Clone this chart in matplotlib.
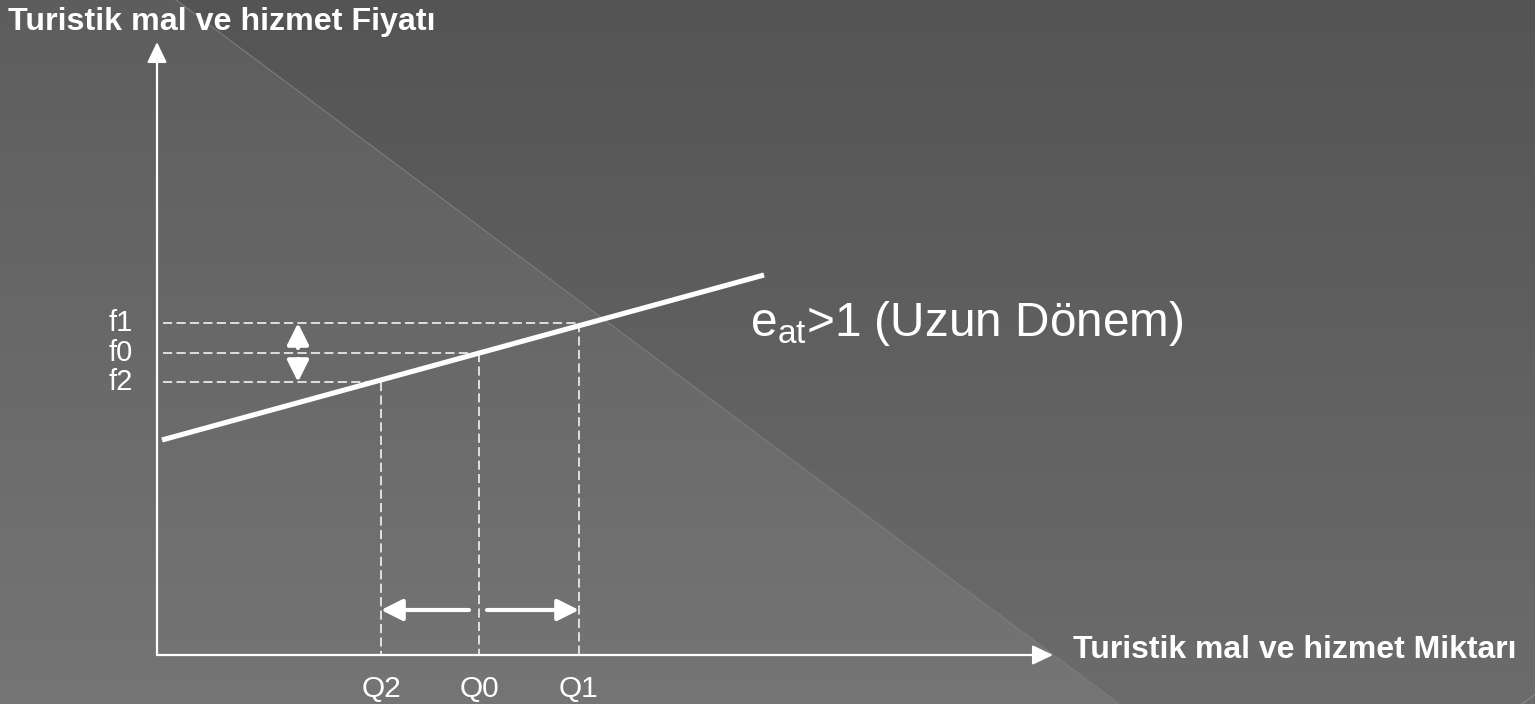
import numpy as np
import matplotlib
matplotlib.use("Agg")
import matplotlib.pyplot as plt

plt.rcParams["font.family"] = ["Liberation Sans", "DejaVu Sans"]
plt.rcParams["mathtext.fontset"] = "custom"
plt.rcParams["mathtext.rm"] = "Liberation Sans"
plt.rcParams["mathtext.it"] = "Liberation Sans"

# ---- data -------------------------------------------------------------
price_labels = ["f1", "f0", "f2"]
price_values = [3.32, 3.02, 2.73]

qty_labels = ["Q2", "Q0", "Q1"]
qty_values = [2.24, 3.22, 4.22]

# long-run supply curve (two end points of the straight line)
supply_q = [0.05, 6.07]
supply_p = [2.15, 3.80]

y_axis_top = 6.13
x_axis_end = 8.96
shift_arrow_level = 0.45

y_title = "Turistik mal ve hizmet Fiyatı"
x_title = "Turistik mal ve hizmet Miktarı"
curve_label = r"$\mathrm{e}_{\mathrm{at}}$>1 (Uzun Dönem)"

# ---- figure -----------------------------------------------------------
W, H = 1535, 704
fig = plt.figure(figsize=(W / 100, H / 100), dpi=100)
ax = fig.add_axes([0, 0, 1, 1])
ax.axis("off")

# background: vertical grey gradient with a lighter diagonal band
rows = np.arange(H)[:, None] / (H - 1)
cols = np.arange(W)[None, :] / (W - 1)
base = 84 + 24 * rows
edge = 0.1147 + (0.729 - 0.1147) * rows
lighter = np.clip((edge - cols) * W + 0.5, 0, 1) * 9
grey = (base + lighter) / 255.0
bg = np.dstack([grey, grey, grey])
ax.imshow(bg, extent=[0, 1, 0, 1], transform=ax.transAxes,
          aspect="auto", zorder=0, interpolation="bilinear")
ax.plot([0.1147, 0.729], [1, 0], transform=ax.transAxes,
        color="#7c7c7c", lw=0.8, zorder=1)
ax.plot([0.9915, 1.0], [0, 0.0135], transform=ax.transAxes,
        color="#8a8a8a", lw=0.8, zorder=1)

ax.set_xlim(-1.57, 13.78)
ax.set_ylim(-0.49, 6.55)

white = "white"

# axes with arrow heads
axis_arrow = dict(arrowstyle="-|>,head_length=1.0,head_width=0.48",
                  mutation_scale=12.5, color=white, lw=1.6,
                  shrinkA=0, shrinkB=0)
ax.annotate("", xy=(0, y_axis_top), xytext=(0, 0), arrowprops=axis_arrow, zorder=4)
ax.annotate("", xy=(x_axis_end, 0), xytext=(0, 0), arrowprops=axis_arrow, zorder=4)

# supply curve
ax.plot(supply_q, supply_p, color=white, lw=3.7, solid_capstyle="butt", zorder=5)

# dashed guides from the axes to each price / quantity point
dash_kw = dict(color=white, lw=1.1, dashes=(6.0, 2.8), zorder=3)
pairs = {"f1": "Q1", "f0": "Q0", "f2": "Q2"}
for pl, pv in zip(price_labels, price_values):
    qv = qty_values[qty_labels.index(pairs[pl])]
    ax.plot([0.06, qv], [pv, pv], **dash_kw)
    ax.plot([qv, qv], [pv, 0], **dash_kw)
    ax.text(-0.24, pv, pl, ha="right", va="center", color=white, fontsize=21)

for ql, qv in zip(qty_labels, qty_values):
    ax.text(qv, -0.34, ql, ha="center", va="center", color=white, fontsize=21.5)

# price change arrows (f0 -> f1, f0 -> f2)
shift_arrow = dict(arrowstyle="-|>,head_length=1.0,head_width=0.5",
                   mutation_scale=13, color=white, lw=3.0,
                   shrinkA=0, shrinkB=0)
f1, f0, f2 = price_values
q2, q0, q1 = qty_values
x_mark = 1.41
ax.annotate("", xy=(x_mark, f1), xytext=(x_mark, f0 + 0.05), arrowprops=shift_arrow, zorder=6)
ax.annotate("", xy=(x_mark, f2), xytext=(x_mark, f0 - 0.06), arrowprops=shift_arrow, zorder=6)

# quantity change arrows (Q0 -> Q2, Q0 -> Q1)
ax.annotate("", xy=(q2, shift_arrow_level), xytext=(q0 - 0.1, shift_arrow_level),
            arrowprops=shift_arrow, zorder=6)
ax.annotate("", xy=(q1, shift_arrow_level), xytext=(q0 + 0.08, shift_arrow_level),
            arrowprops=shift_arrow, zorder=6)

# titles
ax.text(-1.49, 6.33, y_title, ha="left", va="center", color=white,
        fontsize=23.2, fontweight="bold")
ax.text(9.16, 0.05, x_title, ha="left", va="center", color=white,
        fontsize=23, fontweight="bold")
ax.text(5.93, 3.19, curve_label, ha="left", va="baseline", color=white, fontsize=34.4)

fig.savefig("out.png", dpi=100)
